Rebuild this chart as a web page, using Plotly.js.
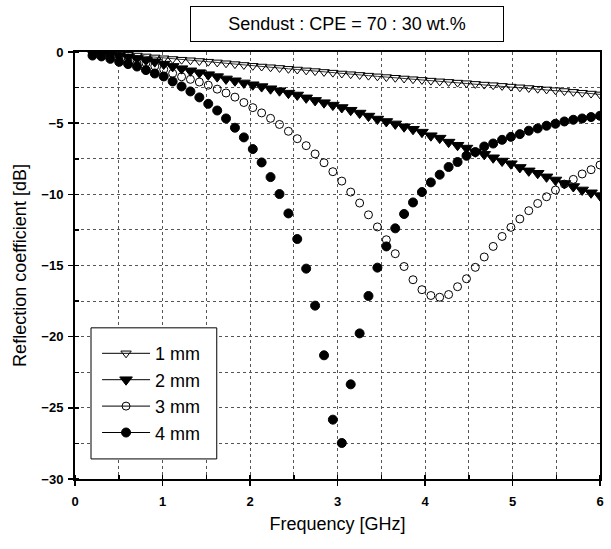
<!DOCTYPE html>
<html>
<head>
<meta charset="utf-8">
<script src="https://cdn.plot.ly/plotly-3.0.1.min.js"></script>
<style>html,body{margin:0;padding:0;background:#fff;}#chart{width:611px;height:549px;}</style>
</head>
<body>
<div id="chart"></div>
<script>
// Frequency points [GHz]
const freq = [0.2,0.302,0.404,0.505,0.607,0.709,0.811,0.912,1.014,1.116,1.218,1.319,1.421,1.523,1.625,1.726,1.828,1.930,2.032,2.133,2.235,2.337,2.439,2.540,2.642,2.744,2.846,2.947,3.049,3.151,3.253,3.354,3.456,3.558,3.660,3.761,3.863,3.965,4.067,4.168,4.270,4.372,4.474,4.575,4.677,4.779,4.881,4.982,5.084,5.186,5.288,5.389,5.491,5.593,5.695,5.796,5.898,6.000];

// Reflection coefficient [dB]
const rl1mm = [-0.03,-0.06,-0.10,-0.14,-0.19,-0.25,-0.31,-0.38,-0.44,-0.49,-0.54,-0.58,-0.63,-0.68,-0.73,-0.79,-0.85,-0.91,-0.97,-1.02,-1.07,-1.12,-1.18,-1.23,-1.29,-1.34,-1.40,-1.45,-1.51,-1.56,-1.61,-1.66,-1.71,-1.76,-1.81,-1.86,-1.91,-1.96,-2.01,-2.06,-2.10,-2.15,-2.19,-2.24,-2.29,-2.33,-2.38,-2.43,-2.48,-2.53,-2.58,-2.63,-2.68,-2.74,-2.80,-2.86,-2.92,-2.98];
const rl2mm = [-0.05,-0.10,-0.17,-0.25,-0.35,-0.46,-0.57,-0.68,-0.85,-1.01,-1.17,-1.32,-1.45,-1.59,-1.73,-1.89,-2.02,-2.17,-2.30,-2.43,-2.58,-2.72,-2.89,-3.02,-3.22,-3.40,-3.56,-3.73,-3.90,-4.09,-4.29,-4.50,-4.71,-4.88,-5.05,-5.25,-5.43,-5.63,-5.88,-6.05,-6.33,-6.55,-6.75,-7.01,-7.19,-7.43,-7.66,-7.85,-8.11,-8.35,-8.52,-8.77,-8.99,-9.24,-9.45,-9.69,-9.89,-10.09];
const rl3mm = [-0.08,-0.12,-0.20,-0.30,-0.43,-0.58,-0.77,-0.99,-1.22,-1.50,-1.74,-1.92,-2.11,-2.33,-2.61,-2.88,-3.17,-3.55,-3.91,-4.28,-4.66,-5.09,-5.57,-6.09,-6.58,-7.16,-7.78,-8.41,-9.07,-9.84,-10.61,-11.44,-12.29,-13.19,-14.17,-15.07,-16.00,-16.70,-17.11,-17.23,-17.04,-16.49,-15.93,-15.13,-14.40,-13.66,-12.96,-12.32,-11.73,-11.15,-10.64,-10.17,-9.70,-9.28,-8.95,-8.57,-8.27,-7.94];
const rl4mm = [-0.25,-0.31,-0.48,-0.69,-0.85,-1.02,-1.27,-1.51,-1.72,-2.07,-2.42,-2.77,-3.19,-3.64,-4.11,-4.67,-5.32,-6.00,-6.82,-7.76,-8.79,-9.98,-11.34,-13.14,-15.22,-17.82,-21.31,-25.83,-27.47,-23.35,-19.77,-17.14,-15.15,-13.66,-12.39,-11.38,-10.57,-9.84,-9.16,-8.62,-8.08,-7.73,-7.29,-7.03,-6.64,-6.43,-6.17,-5.96,-5.77,-5.53,-5.37,-5.18,-5.04,-4.88,-4.76,-4.67,-4.57,-4.48];

const seriesNames = ['1 mm','2 mm','3 mm','4 mm'];
const titleText = 'Sendust : CPE = 70 : 30 wt.%';
const xTitle = 'Frequency [GHz]';
const yTitle = 'Reflection coefficient [dB]';

const symbols = ['triangle-down-open','triangle-down','circle-open','circle'];
const sizes = [9, 11, 8, 9];
const dataSets = [rl1mm, rl2mm, rl3mm, rl4mm];

const traces = [];
dataSets.forEach((ys, i) => {
  traces.push({
    x: freq, y: ys, type: 'scatter',
    mode: i === 0 ? 'lines+markers' : 'markers',
    line: {color: '#000', width: 0.8},
    marker: {symbol: symbols[i], size: sizes[i], color: '#000', line: {color: '#000', width: 1}},
    showlegend: false, cliponaxis: true
  });
});
// legend entries (line + symbol samples)
seriesNames.forEach((nm, i) => {
  traces.push({
    x: [null], y: [null], type: 'scatter', mode: 'lines+markers', name: nm,
    line: {color: '#000', width: 1},
    marker: {symbol: symbols[i], size: sizes[i], color: '#000', line: {color: '#000', width: 1}},
    showlegend: true
  });
});

const gridColor = '#555';
const font = {family: 'Liberation Sans, Arial, sans-serif', color: '#000'};

const layout = {
  width: 611, height: 549,
  margin: {l: 75, r: 11, t: 52, b: 70},
  paper_bgcolor: '#fff', plot_bgcolor: '#fff',
  font: font,
  showlegend: true,
  xaxis: {
    range: [0, 6], tick0: 0, dtick: 1,
    ticks: 'outside', ticklen: 5, tickwidth: 1.5, tickcolor: '#000',
    ticklabelstandoff: 4,
    showline: true, mirror: true, linecolor: '#000', linewidth: 2,
    showgrid: true, gridcolor: gridColor, gridwidth: 1, griddash: '3px,3px',
    zeroline: false,
    tickfont: {family: font.family, size: 13, color: '#000', weight: 'bold'},
    minor: {dtick: 0.5, ticks: 'inside', ticklen: 4, tickcolor: '#000', showgrid: true, gridcolor: gridColor, gridwidth: 1, griddash: '3px,3px'},
    title: {text: xTitle, font: {family: font.family, size: 18, color: '#000'}, standoff: 10}
  },
  yaxis: {
    range: [-30, 0], tick0: 0, dtick: 5,
    ticks: 'outside', ticklen: 5, tickwidth: 1.5, tickcolor: '#000',
    ticklabelstandoff: 2,
    showline: true, mirror: true, linecolor: '#000', linewidth: 2,
    showgrid: true, gridcolor: gridColor, gridwidth: 1, griddash: '3px,3px',
    zeroline: false,
    tickfont: {family: font.family, size: 13, color: '#000', weight: 'bold'},
    minor: {dtick: 2.5, ticks: 'inside', ticklen: 4, tickcolor: '#000', showgrid: true, gridcolor: gridColor, gridwidth: 1, griddash: '3px,3px'},
    title: {text: yTitle, font: {family: font.family, size: 18, color: '#000'}, standoff: 10}
  },
  legend: {
    x: 0.042, y: 0.337, xanchor: 'left', yanchor: 'top',
    bgcolor: 'rgba(0,0,0,0)', borderwidth: 0, itemwidth: 48,
    font: {family: font.family, size: 18, color: '#000'}
  },
  shapes: [{
    type: 'rect', xref: 'paper', yref: 'paper',
    x0: 0.0305, x1: 0.27, y0: 0.047, y1: 0.354,
    line: {color: '#000', width: 1}, fillcolor: '#fff', layer: 'above'
  }],
  annotations: [{
    text: titleText, xref: 'paper', yref: 'paper',
    x: 0.519, y: 1.0645, xanchor: 'center', yanchor: 'middle',
    showarrow: false, font: {family: font.family, size: 18, color: '#000'},
    bordercolor: '#000', borderwidth: 1, borderpad: 3, bgcolor: '#fff',
    width: 306, height: 28
  }]
};

Plotly.newPlot('chart', traces, layout, {displayModeBar: false, staticPlot: true});
</script>
</body>
</html>
